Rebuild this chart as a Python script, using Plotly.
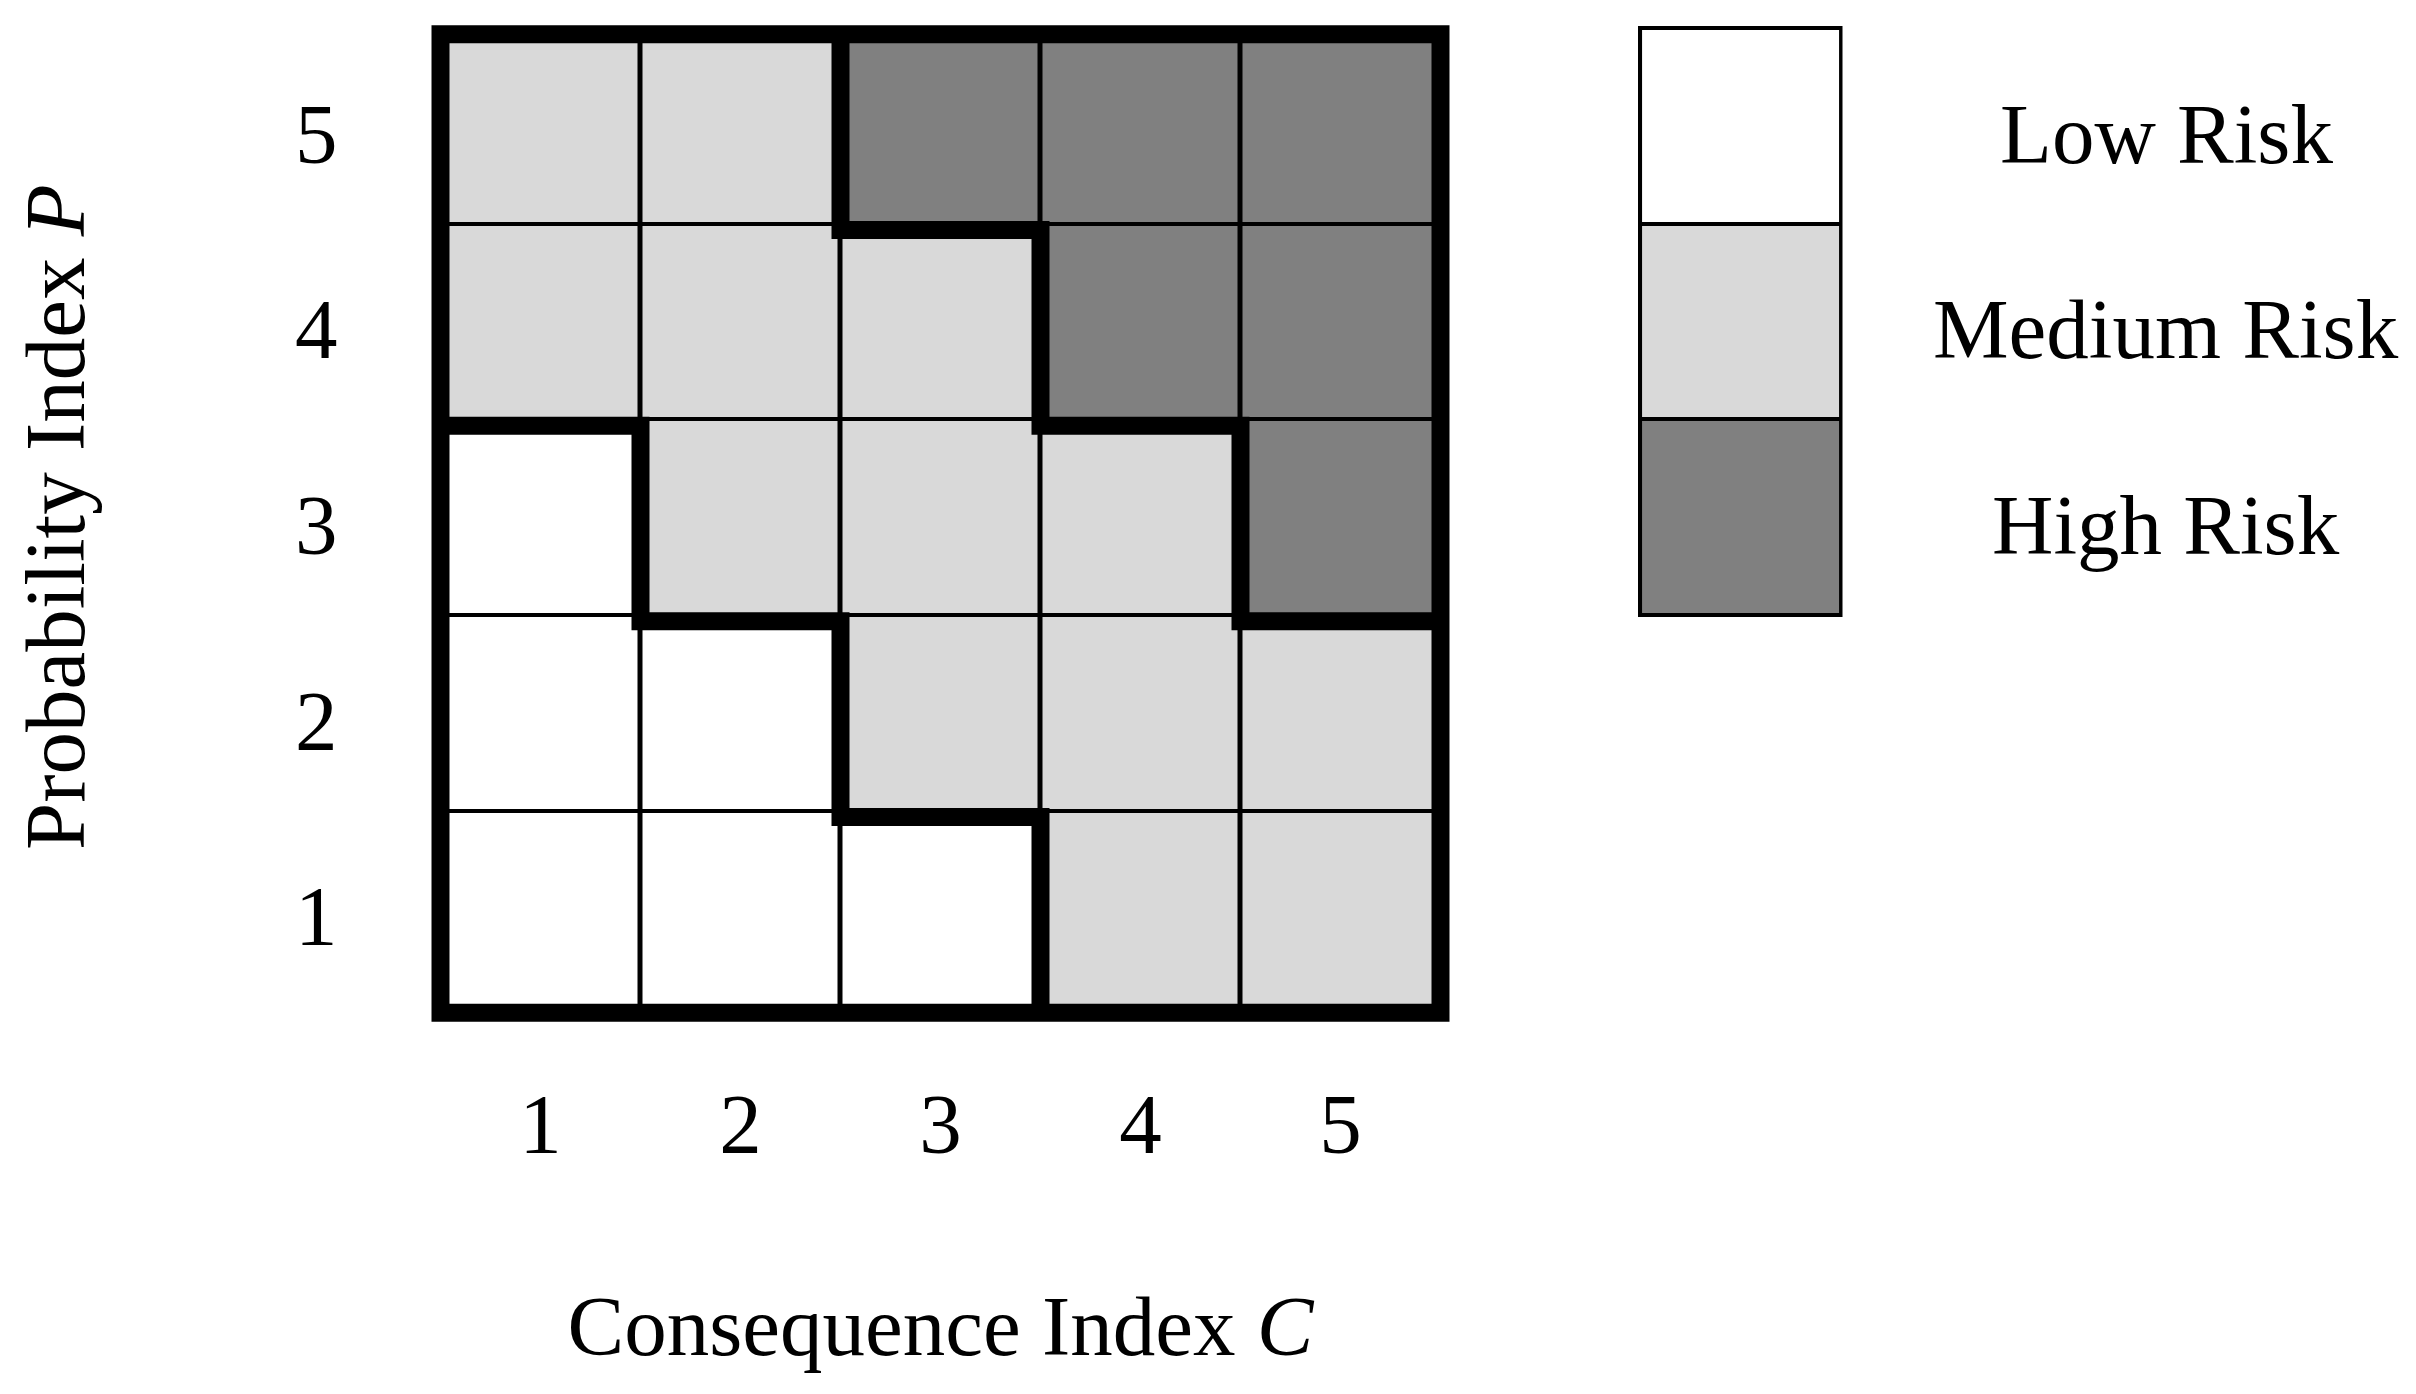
import plotly.graph_objects as go
from collections import defaultdict

# ---------------- data ----------------
consequence = [1, 2, 3, 4, 5]          # columns (Consequence Index C)
probability = [1, 2, 3, 4, 5]          # rows (Probability Index P), bottom -> top
x_tick_labels = ["1", "2", "3", "4", "5"]
y_tick_labels = ["1", "2", "3", "4", "5"]
levels = ["Low Risk", "Medium Risk", "High Risk"]
level_codes = [0, 1, 2]
level_colors = ["#ffffff", "#d9d9d9", "#808080"]

# risk level (index into levels) per cell; one list per probability row
risk_p1 = [0, 0, 0, 1, 1]
risk_p2 = [0, 0, 1, 1, 1]
risk_p3 = [0, 1, 1, 1, 2]
risk_p4 = [1, 1, 1, 2, 2]
risk_p5 = [1, 1, 2, 2, 2]
risk = [risk_p1, risk_p2, risk_p3, risk_p4, risk_p5]

x_title = "Consequence Index <i>C</i>"
y_title = "Probability Index <i>P</i>"

# ---------------- style ----------------
FONT = "Liberation Serif"
FS = 85
W, H = 2416, 1394
THICK = 18
THICK_DY = -0.032   # thick lines sit slightly below the cell edges
PAD = 0.1

# ---------------- derived geometry ----------------
n_r, n_c = len(probability), len(consequence)
half = 0.5
xmin, xmax = consequence[0] - half, consequence[-1] + half
ymin, ymax = probability[0] - half, probability[-1] + half

# boundaries between cells of different risk level
segs = []
for i in range(n_r):
    for j in range(n_c):
        if j + 1 < n_c and risk[i][j] != risk[i][j + 1]:
            xb = (consequence[j] + consequence[j + 1]) / 2
            segs.append(((xb, probability[i] - half), (xb, probability[i] + half)))
        if i + 1 < n_r and risk[i][j] != risk[i + 1][j]:
            yb = (probability[i] + probability[i + 1]) / 2
            segs.append(((consequence[j] - half, yb), (consequence[j] + half, yb)))

adj = defaultdict(list)
for a, b in segs:
    adj[a].append(b)
    adj[b].append(a)
used = set()
paths = []
for s in [v for v in adj if len(adj[v]) == 1] + list(adj.keys()):
    path = [s]
    cur = s
    while True:
        nxt = None
        for nb in adj[cur]:
            e = frozenset((cur, nb))
            if e not in used:
                used.add(e)
                nxt = nb
                break
        if nxt is None:
            break
        path.append(nxt)
        cur = nxt
    if len(path) > 1:
        paths.append(path)

bx, by = [], []
for p in paths:
    bx += [pt[0] for pt in p] + [None]
    by += [pt[1] + THICK_DY for pt in p] + [None]

# outer frame (continues past first corner so all corners are joined)
fx = [xmin, xmax, xmax, xmin, xmin, xmax]
fy = [v + THICK_DY for v in [ymin, ymin, ymax, ymax, ymin, ymin]]

colorscale = [[0.0, level_colors[0]], [0.5, level_colors[1]], [1.0, level_colors[2]]]

fig = go.Figure()
fig.add_trace(go.Heatmap(
    x=consequence, y=probability, z=risk, zmin=0, zmax=2,
    colorscale=colorscale, showscale=False, xgap=5, ygap=4,
    hoverinfo="skip", xaxis="x", yaxis="y"))
fig.add_trace(go.Scatter(
    x=bx, y=by, mode="lines", line=dict(color="black", width=THICK, simplify=False),
    hoverinfo="skip", showlegend=False, xaxis="x", yaxis="y"))
fig.add_trace(go.Scatter(
    x=fx, y=fy, mode="lines", line=dict(color="black", width=THICK, simplify=False),
    hoverinfo="skip", showlegend=False, xaxis="x", yaxis="y"))

# legend as a small heatmap column
fig.add_trace(go.Heatmap(
    x=[1], y=level_codes, z=[[c] for c in level_codes], zmin=0, zmax=2,
    colorscale=colorscale, showscale=False, xgap=4, ygap=4,
    hoverinfo="skip", xaxis="x2", yaxis="y2"))

shapes = [
    dict(type="rect", xref="x", yref="y", x0=xmin, x1=xmax, y0=ymin, y1=ymax,
         fillcolor="black", line=dict(width=0), layer="below"),
    dict(type="rect", xref="x2", yref="y2", x0=0.5, x1=1.5,
         y0=level_codes[0] - 0.5, y1=level_codes[-1] + 0.5,
         fillcolor="black", line=dict(width=4, color="black"), layer="below"),
]

annotations = []
for code, name in zip(level_codes, levels):
    annotations.append(dict(
        text=name, x=2166 / W, xref="paper", xanchor="center",
        y=code, yref="y2", yanchor="middle", yshift=-8, showarrow=False,
        font=dict(family=FONT, size=FS, color="black")))

# pixel -> paper helpers
px_x0, px_x1 = 440.5 - PAD * 200, 1440.5 + PAD * 200
cell_h = (1006.5 - 28) / 5
px_y0, px_y1 = 28 - PAD * cell_h, 1006.5 + PAD * cell_h

lcell_h = (615 - 28) / 3
lpad = 0.05

fig.update_layout(
    width=W, height=H, margin=dict(l=0, r=0, t=0, b=0),
    paper_bgcolor="white", plot_bgcolor="white",
    font=dict(family=FONT, size=FS, color="black"),
    showlegend=False,
    shapes=shapes, annotations=annotations,
    xaxis=dict(
        domain=[px_x0 / W, px_x1 / W], range=[xmin - PAD, xmax + PAD],
        tickmode="array", tickvals=consequence, ticktext=x_tick_labels,
        ticks="outside", ticklen=24, tickcolor="rgba(0,0,0,0)",
        tickfont=dict(family=FONT, size=FS, color="black"),
        showgrid=False, zeroline=False, showline=False, fixedrange=True,
        title=dict(text=x_title, font=dict(family=FONT, size=FS, color="black"), standoff=125),
        anchor="y"),
    yaxis=dict(
        domain=[1 - px_y1 / H, 1 - px_y0 / H], range=[ymin - PAD, ymax + PAD],
        tickmode="array", tickvals=probability, ticktext=y_tick_labels,
        ticks="outside", ticklen=65, tickcolor="rgba(0,0,0,0)",
        ticklabelshift=7,
        tickfont=dict(family=FONT, size=FS, color="black"),
        showgrid=False, zeroline=False, showline=False, fixedrange=True,
        title=dict(text=y_title, font=dict(family=FONT, size=FS, color="black"), standoff=182),
        anchor="x"),
    xaxis2=dict(
        domain=[(1640 - lpad * 200.5) / W, (1840.5 + lpad * 200.5) / W],
        range=[0.5 - lpad, 1.5 + lpad], visible=False, fixedrange=True, anchor="y2"),
    yaxis2=dict(
        domain=[1 - (615 + lpad * lcell_h) / H, 1 - (28 - lpad * lcell_h) / H],
        range=[level_codes[-1] + 0.5 + lpad, level_codes[0] - 0.5 - lpad],
        visible=False, fixedrange=True, anchor="x2"),
)

fig.write_html("out.html", config={"displayModeBar": False},
               post_script="document.body.style.margin='0';document.body.style.overflow='hidden';")
